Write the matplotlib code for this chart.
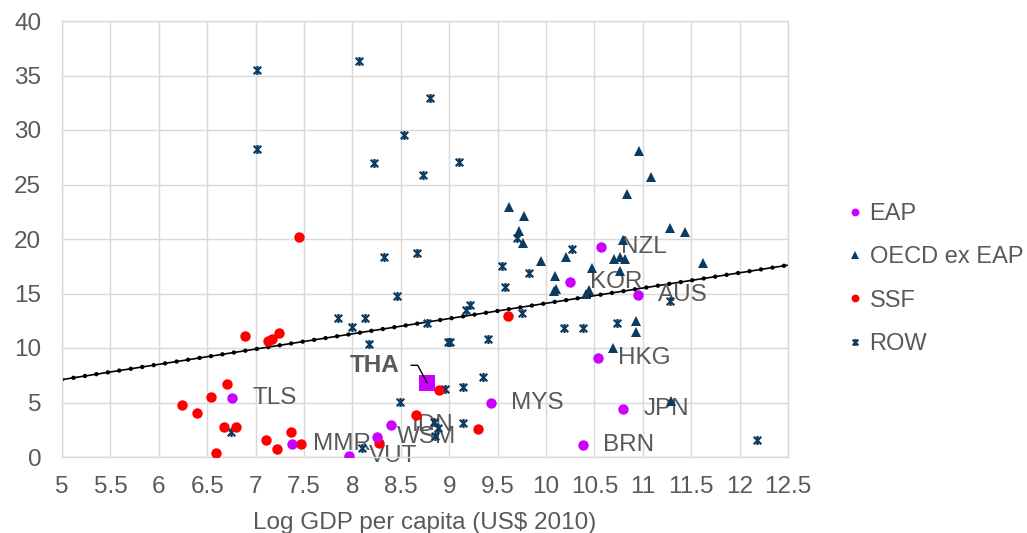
import matplotlib
matplotlib.use("Agg")
import matplotlib.pyplot as plt
from matplotlib.path import Path
import numpy as np

plt.rcParams['font.family'] = ['Liberation Sans', 'DejaVu Sans']

# ---------------- data ----------------
eap_names = ['NZL', 'KOR', 'AUS', 'HKG', 'JPN', 'BRN', 'MYS', 'TLS', 'MMR', 'VUT', 'WSM', 'IDN']
eap_x = [10.57, 10.25, 10.95, 10.54, 10.80, 10.38, 9.43, 6.76, 7.38, 7.96, 8.25, 8.40]
eap_y = [19.27, 16.06, 14.86, 9.08, 4.40, 1.10, 4.95, 5.41, 1.19, 0.09, 1.80, 2.90]

tha_name = 'THA'
tha_x = [8.77]
tha_y = [6.82]

oecd_x = [9.62, 9.77, 9.72, 9.76, 9.95, 10.21, 10.09, 10.10, 10.08, 10.48, 10.44, 10.41,
          10.84, 10.80, 10.70, 10.76, 10.82, 10.76, 10.93, 10.93, 10.96, 11.08, 11.28,
          11.44, 11.62, 10.69, 11.29]
oecd_y = [22.96, 22.14, 20.73, 19.60, 17.98, 18.32, 16.60, 15.41, 15.23, 17.37, 15.30, 14.95,
          24.10, 19.90, 18.20, 18.38, 18.20, 17.06, 12.50, 11.50, 28.10, 25.70, 20.98,
          20.60, 17.77, 10.03, 5.14]

ssf_x = [6.89, 7.13, 7.17, 7.24, 6.70, 6.54, 6.24, 6.39, 6.67, 6.80, 6.59, 7.11, 7.22,
         7.37, 7.47, 7.45, 8.27, 8.66, 8.89, 9.30, 9.61]
ssf_y = [11.10, 10.67, 10.83, 11.35, 6.67, 5.47, 4.77, 4.07, 2.72, 2.72, 0.40, 1.56, 0.70,
         2.26, 1.19, 20.15, 1.25, 3.85, 6.15, 2.54, 12.96]

row_x = [7.01, 8.07, 8.80, 8.53, 7.01, 8.22, 8.73, 9.10, 8.33, 8.67, 7.85, 8.00, 8.13, 8.17,
         8.46, 8.77, 8.99, 9.01, 9.17, 9.21, 9.40, 9.58, 8.49, 8.96, 9.14, 9.35, 9.14, 8.84,
         8.88, 8.85, 8.10, 6.75, 10.27, 9.55, 9.82, 9.70, 9.75, 10.19, 10.38, 10.73, 11.28, 12.18]
row_y = [35.50, 36.36, 32.90, 29.54, 28.26, 26.94, 25.87, 27.10, 18.32, 18.69, 12.72, 11.96,
         12.78, 10.34, 14.80, 12.32, 10.58, 10.58, 13.49, 13.94, 10.83, 15.57, 5.02, 6.24,
         6.39, 7.37, 3.09, 3.24, 2.70, 1.93, 0.80, 2.32, 19.08, 17.55, 16.90, 20.06, 13.18,
         11.86, 11.86, 12.26, 14.30, 1.56]

trend_x = [5.0, 12.5]
trend_y = [7.1, 17.6]

x_ticks = [5, 5.5, 6, 6.5, 7, 7.5, 8, 8.5, 9, 9.5, 10, 10.5, 11, 11.5, 12, 12.5]
x_tick_labels = ['5', '5.5', '6', '6.5', '7', '7.5', '8', '8.5', '9', '9.5', '10', '10.5',
                 '11', '11.5', '12', '12.5']
y_ticks = [0, 5, 10, 15, 20, 25, 30, 35, 40]
x_label = 'Log GDP per capita (US$ 2010)'
legend_labels = ['EAP', 'OECD ex EAP', 'SSF', 'ROW']

# ---------------- style ----------------
C_EAP = '#cc00ff'
C_OECD = '#0b3b60'
C_SSF = '#ff0000'
C_ROW = '#0b3b60'
C_TEXT = '#595959'
C_GRID = '#d9d9d9'
FS = 17.5

star = Path([(-1, -1), (1, 1), (-1, 1), (1, -1), (0, -1.2), (0, 1.2)],
            [Path.MOVETO, Path.LINETO, Path.MOVETO, Path.LINETO, Path.MOVETO, Path.LINETO])

fig = plt.figure(figsize=(10.27, 5.33), dpi=100)
ax = fig.add_axes([62 / 1027, 1 - 457 / 533, (788 - 62) / 1027, (457 - 21) / 533])

ax.set_xlim(5, 12.5)
ax.set_ylim(0, 40)
ax.set_xticks(x_ticks)
ax.set_xticklabels(x_tick_labels)
ax.set_yticks(y_ticks)
ax.grid(True, color=C_GRID, lw=1.0, zorder=0)
ax.set_axisbelow(True)
for s in ax.spines.values():
    s.set_color(C_GRID)
    s.set_linewidth(1.0)
ax.tick_params(length=0, labelsize=FS, labelcolor=C_TEXT, pad=15)
ax.tick_params(axis='x', pad=14)
ax.set_xlabel(x_label, fontsize=FS, color=C_TEXT, labelpad=10)

# trend line: thin solid line with round dots
ax.plot(trend_x, trend_y, color='black', lw=1.2, zorder=2)
ax.plot(trend_x, trend_y, color='black', lw=3.2, zorder=2,
        linestyle=(0, (0.01, 2.6)), dash_capstyle='round')

ax.plot(row_x, row_y, linestyle='none', marker=star, ms=6.5, mew=1.6, color=C_ROW,
        zorder=3, label=legend_labels[3])
ax.plot(oecd_x, oecd_y, linestyle='none', marker='^', ms=7.5, color=C_OECD, mew=0,
        zorder=3, label=legend_labels[1])
ax.plot(ssf_x, ssf_y, linestyle='none', marker='o', ms=7.5, color=C_SSF, mew=0,
        zorder=3, label=legend_labels[2])
ax.plot(eap_x, eap_y, linestyle='none', marker='o', ms=7.5, color=C_EAP, mew=0,
        zorder=4, label=legend_labels[0])
ax.plot(tha_x, tha_y, linestyle='none', marker='s', ms=11.5, color=C_EAP, mew=0, zorder=4)

for n, x, y in zip(eap_names, eap_x, eap_y):
    ax.annotate(n, xy=(x, y), xytext=(14.5, 0), textcoords='offset points',
                ha='left', va='center', fontsize=FS, color=C_TEXT, zorder=2.5)

ax.annotate(tha_name, xy=(tha_x[0], tha_y[0]), xytext=(-20, 12.5), textcoords='offset points',
            ha='right', va='center', fontsize=FS, color=C_TEXT, fontweight='bold', zorder=5,
            arrowprops=dict(arrowstyle='-', color='black', lw=1.0, shrinkA=6.5, shrinkB=0,
                            relpos=(1, 0.5),
                            connectionstyle='angle,angleA=0,angleB=118,rad=0'))

h, l = ax.get_legend_handles_labels()
order = [l.index(n) for n in legend_labels]
leg = fig.legend([h[i] for i in order], [l[i] for i in order], loc='center left',
                 bbox_to_anchor=(827 / 1027, 1 - 279 / 533), frameon=False, fontsize=17,
                 labelcolor=C_TEXT, handlelength=0.6, handletextpad=0.3, labelspacing=0.9,
                 markerscale=0.75)

fig.savefig('out.png', dpi=100)
